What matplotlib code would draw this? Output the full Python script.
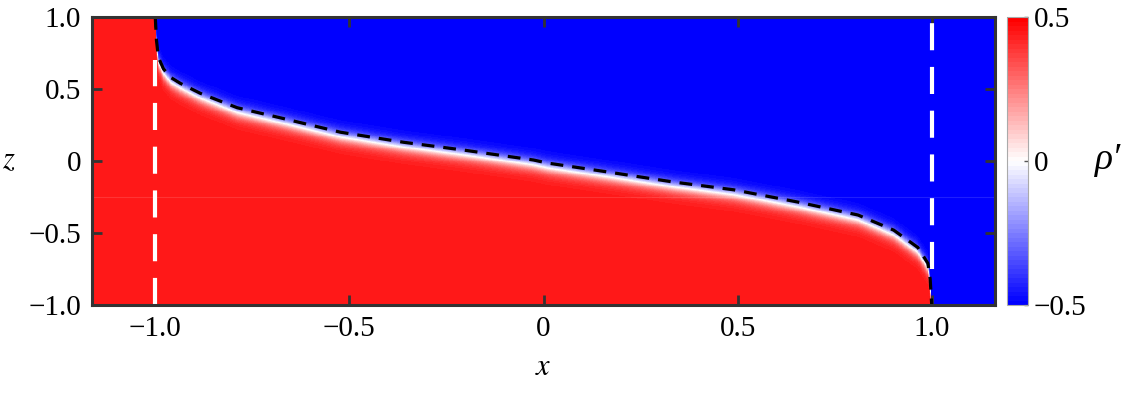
import numpy as np
import matplotlib
matplotlib.use("Agg")
import matplotlib.pyplot as plt
from matplotlib.colors import LinearSegmentedColormap, Normalize

plt.rcParams['font.family'] = ['Liberation Serif', 'DejaVu Serif']
plt.rcParams['mathtext.fontset'] = 'stix'

# interface (dashed black line)
interface_x = [-1.0, -0.997, -0.992, -0.979, -0.96, -0.936, -0.884, -0.789, -0.678,
               -0.523, -0.36, -0.206, -0.026, 0.01, 0.165, 0.335, 0.49, 0.655,
               0.81, 0.902, 0.964, 0.99, 0.996, 1.0]
interface_z = [1.0, 0.84, 0.72, 0.64, 0.58, 0.54, 0.47, 0.37, 0.30,
               0.20, 0.13, 0.076, 0.007, -0.014, -0.076, -0.146, -0.20, -0.285,
               -0.375, -0.48, -0.60, -0.71, -0.82, -1.0]
wall_x = [-1.0, 1.0]
wall_z0 = [-1.0, -0.75]
wall_z1 = [0.70, 1.0]
rho_heavy = 0.45
rho_light = -0.5
xticks = [-1.0, -0.5, 0.0, 0.5, 1.0]
xticklabels = ["\u22121.0", "\u22120.5", "0", "0.5", "1.0"]
zticks = [-1.0, -0.5, 0.0, 0.5, 1.0]
zticklabels = ["\u22121.0", "\u22120.5", "0", "0.5", "1.0"]
cbticks = [-0.5, 0.0, 0.5]
cbticklabels = ["\u22120.5", "0", "0.5"]

W, H = 1131, 401
fig = plt.figure(figsize=(W / 100, H / 100), dpi=100)
ax = fig.add_axes([92 / W, 1 - 305 / H, (995 - 92) / W, (305 - 17) / H])
cax = fig.add_axes([1007 / W, 1 - 305 / H, 21 / W, (305 - 17) / H])

xlim = (-1.163, 1.163)
# field: density profile across the interface (vertical offset, pixel units)
sz = 144.0
xg = np.linspace(xlim[0], xlim[1], 1600)
zg = np.linspace(-1, 1, 600)
X, Z = np.meshgrid(xg, zg)
zeta = np.interp(xg, interface_x, interface_z)
S = (Z - zeta[None, :]) * sz
w = 8.0
V = 0.475 * np.tanh(-(S + 4.5) / w) - 0.025
V[X < wall_x[0]] = rho_heavy
V[X > wall_x[1]] = rho_light

cmap = LinearSegmentedColormap.from_list("bwr2", [(0, 0, 1), (1, 1, 1), (1, 0, 0)], N=64)
norm = Normalize(-0.5, 0.5)
pm = ax.pcolormesh(X, Z, V, cmap=cmap, norm=norm, shading='auto', rasterized=True)
ax.axhline(-0.25, color='white', alpha=0.12, lw=0.8)

for xw, z0, z1 in zip(wall_x, wall_z0, wall_z1):
    ax.plot([xw, xw], [z0, z1], color='white', lw=3, dashes=(6.5, 4), zorder=3)
ax.plot(interface_x, interface_z, color='black', lw=2.3, dashes=(4, 2.8), zorder=4)

ax.set_xlim(*xlim)
ax.set_ylim(-1, 1)
ax.set_xticks(xticks)
ax.set_xticklabels(xticklabels)
ax.set_yticks(zticks)
ax.set_yticklabels(zticklabels)
ax.tick_params(direction='in', length=7, width=2, color='#333333', labelsize=21,
               top=True, right=True, pad=8)
for sp in ax.spines.values():
    sp.set_linewidth(2.2)
    sp.set_color('#333333')
    sp.set_zorder(5)
ax.set_xlabel('$x$', fontsize=22, labelpad=8)
ax.set_ylabel('$z$', fontsize=22, rotation=0, labelpad=14, va='center')

cb = fig.colorbar(pm, cax=cax, ticks=cbticks)
cb.ax.set_yticklabels(cbticklabels)
cb.ax.tick_params(direction='in', length=3, width=1, color='#555555', labelsize=21, pad=4)
cb.outline.set_edgecolor('#aaaaaa')
cb.outline.set_linewidth(0.8)
fig.text(1108 / W, 1 - 160 / H, "\u03c1\u2032", fontsize=27, fontstyle='italic',
         ha='center', va='center')

fig.savefig("out.png", dpi=100)
